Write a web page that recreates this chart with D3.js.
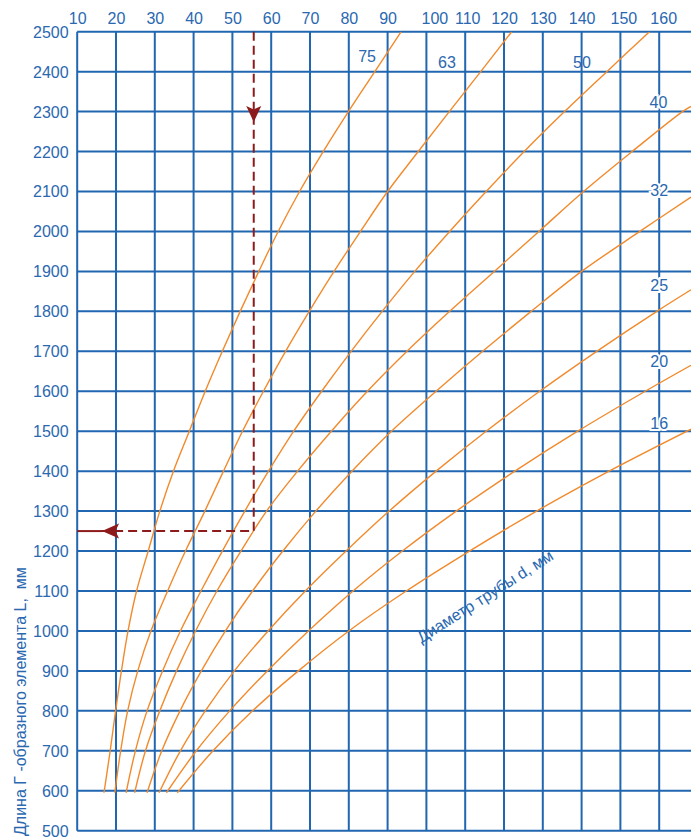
<!DOCTYPE html>
<html>
<head>
<meta charset="utf-8">
<script src="https://cdn.jsdelivr.net/npm/d3@7"></script>
<style>
  html, body { margin: 0; padding: 0; background: #ffffff; }
  svg { display: block; font-family: Arial, "Liberation Sans", sans-serif; }
</style>
</head>
<body>
<div id="chart"></div>
<script>
// ---------- DATA ----------
const xTicks = [10, 20, 30, 40, 50, 60, 70, 80, 90, 100, 110, 120, 130, 140, 150, 160];
const yTicks = [500, 600, 700, 800, 900, 1000, 1100, 1200, 1300, 1400, 1500, 1600, 1700, 1800, 1900, 2000, 2100, 2200, 2300, 2400, 2500];
const curveNames = ["75", "63", "50", "40", "32", "25", "20", "16"];

// each curve: [x, L]
const d75 = [[16.9,595],[18.5,700],[19.9,800],[21.4,900],[23.1,1000],[25.3,1100],[28.3,1200],[31.3,1300],[34.8,1400],[38.9,1500],[43.0,1600],[47.4,1700],[52.0,1800],[56.8,1900],[61.8,2000],[67.3,2100],[73.4,2200],[79.9,2300],[86.7,2400],[93.5,2500]];
const d63 = [[19.7,595],[21.2,700],[23.0,800],[25.6,900],[29.0,1000],[33.3,1100],[37.9,1200],[42.9,1300],[47.7,1400],[52.6,1500],[58.0,1600],[63.7,1700],[69.8,1800],[76.2,1900],[83.0,2000],[90.0,2100],[97.9,2200],[105.9,2300],[114.0,2400],[122.0,2500]];
const d50 = [[22.6,595],[25.0,700],[28.0,800],[32.0,900],[36.6,1000],[41.9,1100],[47.4,1200],[53.2,1300],[59.3,1400],[65.8,1500],[73.0,1600],[80.6,1700],[88.6,1800],[97.0,1900],[106.0,2000],[115.4,2100],[125.2,2200],[135.6,2300],[146.5,2400],[157.5,2500]];
const d40 = [[24.8,595],[27.6,700],[31.3,800],[35.6,900],[40.5,1000],[46.0,1100],[52.2,1200],[58.8,1300],[66.8,1400],[75.5,1500],[84.8,1600],[95.0,1700],[106.0,1800],[117.5,1900],[129.0,2000],[140.5,2100],[153.0,2200],[166.0,2300],[168.2,2313]];
const d32 = [[28.0,595],[31.8,700],[36.5,800],[42.0,900],[48.2,1000],[55.2,1100],[63.0,1200],[71.5,1300],[80.8,1400],[91.0,1500],[102.5,1600],[114.5,1700],[127.0,1800],[140.0,1900],[155.0,2000],[168.2,2086]];
const d25 = [[31.1,595],[36.6,700],[43.0,800],[50.5,900],[59.2,1000],[68.8,1100],[79.3,1200],[90.4,1300],[102.5,1400],[115.4,1500],[129.2,1600],[143.9,1700],[159.4,1800],[168.2,1854]];
const d20 = [[33.0,595],[40.7,700],[49.3,800],[59.0,900],[69.6,1000],[81.1,1100],[93.8,1200],[107.7,1300],[122.8,1400],[139.0,1500],[156.4,1600],[168.2,1665]];
const d16 = [[35.8,595],[45.0,700],[55.2,800],[67.0,900],[80.0,1000],[94.8,1100],[111.1,1200],[128.4,1300],[147.1,1400],[168.2,1505]];

// example reading (dashed arrows)
const exampleX = 55.5;
const exampleL = 1250;

const yTitle = "Длина Г -образного элемента L,  мм";
const curveTitle = "Диаметр трубы d, мм";

// ---------- LAYOUT ----------
const W = 691, H = 839;
const xDomainMax = 168.2;
const x = d3.scaleLinear().domain([10, 160]).range([77.2, 659.2]);
const y = d3.scaleLinear().domain([500, 2500]).range([830.7, 31.7]);

const gridColor = "#2166b0";
const textColor = "#2a68b0";
const curveColor = "#f28a2c";
const arrowColor = "#8e1b1b";
const FONT = 'Arial, "Liberation Sans", sans-serif';

const svg = d3.select("#chart").append("svg")
  .attr("width", W).attr("height", H)
  .attr("viewBox", `0 0 ${W} ${H}`);

svg.append("rect").attr("width", W).attr("height", H).attr("fill", "#fff");

svg.append("clipPath").attr("id", "plotClip")
  .append("rect")
  .attr("x", x(10)).attr("y", y(2500))
  .attr("width", x(xDomainMax) - x(10) + 2)
  .attr("height", y(500) - y(2500));

// grid
const grid = svg.append("g");
grid.selectAll("line.h").data(yTicks).join("line")
  .attr("class", "h")
  .attr("x1", x(10)).attr("x2", x(xDomainMax) + 2)
  .attr("y1", d => y(d)).attr("y2", d => y(d))
  .attr("stroke", gridColor).attr("stroke-width", 2);
grid.selectAll("line.v").data(xTicks).join("line")
  .attr("class", "v")
  .attr("x1", d => x(d)).attr("x2", d => x(d))
  .attr("y1", y(2500)).attr("y2", y(500))
  .attr("stroke", gridColor).attr("stroke-width", 2);

// axes labels via d3 axes (lines hidden)
const labelShift = {100: 8, 110: 2, 150: 3, 160: 4};
const xAxis = d3.axisTop(x).tickValues(xTicks).tickFormat(d3.format("d")).tickSize(0).tickPadding(0);
const gx = svg.append("g").attr("transform", `translate(0, ${24.3})`).call(xAxis);
gx.select(".domain").remove();
gx.selectAll("text").attr("fill", textColor).attr("font-size", 16)
  .attr("font-family", FONT).attr("dy", 0)
  .attr("dx", d => labelShift[d] || 0);

const yAxis = d3.axisLeft(y).tickValues(yTicks).tickFormat(d3.format("d")).tickSize(0).tickPadding(0);
const gy = svg.append("g").attr("transform", `translate(${68.6}, 0)`).call(yAxis);
gy.select(".domain").remove();
gy.selectAll("text").attr("fill", textColor).attr("font-size", 16)
  .attr("font-family", FONT).attr("dy", "0.34em");

// y title
svg.append("text")
  .attr("transform", `translate(25.5, ${836}) rotate(-90)`)
  .attr("text-anchor", "start")
  .attr("fill", textColor)
  .attr("font-size", 16)
  .style("white-space", "pre")
  .attr("xml:space", "preserve")
  .text(yTitle);

// curves
const curves = [d75, d63, d50, d40, d32, d25, d20, d16];
const line = d3.line().x(d => x(d[0])).y(d => y(d[1])).curve(d3.curveCatmullRom.alpha(0.5));
svg.append("g").attr("clip-path", "url(#plotClip)")
  .selectAll("path").data(curves).join("path")
  .attr("d", line)
  .attr("fill", "none")
  .attr("stroke", curveColor)
  .attr("stroke-width", 1.4);

// curve labels (anchored in data coordinates)
const labelAnchors = [[84.7,2439],[105.3,2424],[140.1,2424],[159.8,2324],[160,2104],[160,1866],[160,1676],[160,1521]];
svg.append("g").selectAll("text").data(curveNames).join("text")
  .attr("x", (d, i) => x(labelAnchors[i][0]))
  .attr("y", (d, i) => y(labelAnchors[i][1]))
  .attr("dy", "0.36em")
  .attr("text-anchor", "middle")
  .attr("fill", textColor)
  .attr("font-size", 16)
  .attr("stroke", (d, i) => i >= 3 ? "#fff" : "none")
  .attr("stroke-width", 4)
  .attr("paint-order", "stroke")
  .text(d => d);

// rotated curve title
svg.append("text")
  .attr("transform", `translate(${x(115.9)}, ${y(1075)}) rotate(-32.5)`)
  .attr("text-anchor", "middle")
  .attr("fill", textColor)
  .attr("font-size", 16)
  .text(curveTitle);

// dashed example lines
const ex = x(exampleX), ey = y(exampleL);
const g2 = svg.append("g");
g2.append("path")
  .attr("d", `M${ex},${y(2500)} L${ex},${ey} L${x(16.4)},${ey}`)
  .attr("fill", "none").attr("stroke", arrowColor)
  .attr("stroke-width", 2).attr("stroke-dasharray", "9,5");
g2.append("line")
  .attr("x1", x(10)).attr("x2", x(16.4))
  .attr("y1", ey).attr("y2", ey)
  .attr("stroke", arrowColor).attr("stroke-width", 2);
// arrowheads
const tipDownY = y(2274);
g2.append("path")
  .attr("d", `M${ex},${tipDownY} L${ex - 7.5},${tipDownY - 16} L${ex},${tipDownY - 12.5} L${ex + 7.5},${tipDownY - 16} Z`)
  .attr("fill", arrowColor);
const tipLeftX = x(16.4);
g2.append("path")
  .attr("d", `M${tipLeftX},${ey} L${tipLeftX + 17},${ey - 7.5} L${tipLeftX + 13.5},${ey} L${tipLeftX + 17},${ey + 7.5} Z`)
  .attr("fill", arrowColor);
</script>
</body>
</html>
